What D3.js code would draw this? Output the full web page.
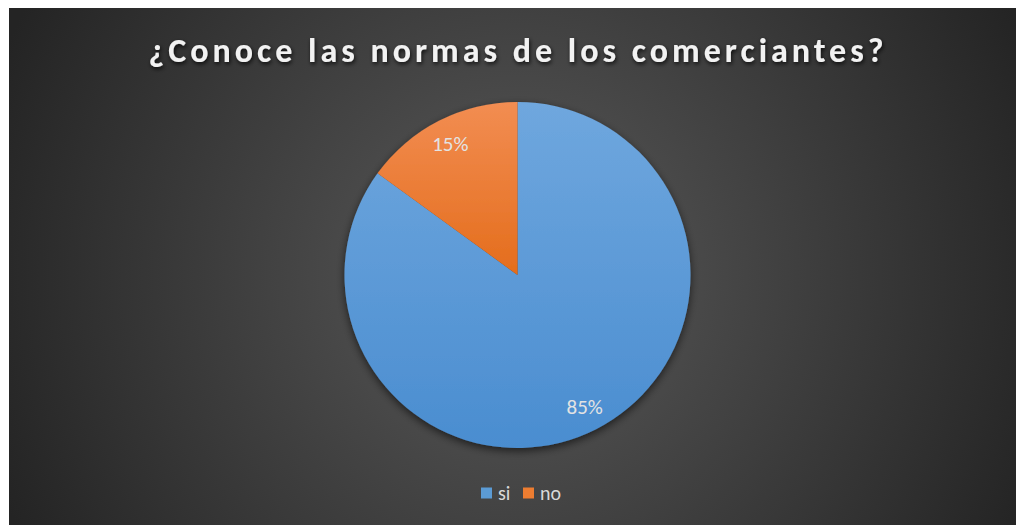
<!DOCTYPE html>
<html>
<head>
<meta charset="utf-8">
<script src="https://cdn.jsdelivr.net/npm/d3@7"></script>
<style>
  body { margin: 0; background: #fff; }
  text { font-family: Carlito, "Open Sans", "Noto Sans", sans-serif; }
</style>
</head>
<body>
<svg width="1016" height="525"></svg>
<script>
const categories = ["si", "no"];
const values = [85, 15];
const colors = ["#5b9bd5", "#ed7d31"];
const title = "¿Conoce las normas de los comerciantes?";

const svg = d3.select("svg");
const cx = 517.5, cy = 275, radius = 173;

const defs = svg.append("defs");

const bg = defs.append("radialGradient").attr("id", "bg")
  .attr("gradientUnits", "userSpaceOnUse")
  .attr("cx", cx).attr("cy", cy).attr("r", 560);
bg.append("stop").attr("offset", "0%").attr("stop-color", "#5a5a5a");
bg.append("stop").attr("offset", "100%").attr("stop-color", "#242424");

// slice gradients, in the pie group's frame (origin at the centre)
const grads = [["#6fa7de", "#4a8dd0", radius], ["#f28d52", "#e46d1c", 0]];
grads.forEach((gr, i) => {
  const lg = defs.append("linearGradient").attr("id", "g" + i)
    .attr("gradientUnits", "userSpaceOnUse")
    .attr("x1", 0).attr("y1", -radius).attr("x2", 0).attr("y2", gr[2]);
  lg.append("stop").attr("offset", "0%").attr("stop-color", gr[0]);
  lg.append("stop").attr("offset", "100%").attr("stop-color", gr[1]);
});

const shadow = defs.append("filter").attr("id", "shadow")
  .attr("x", "-20%").attr("y", "-20%").attr("width", "140%").attr("height", "140%");
shadow.append("feGaussianBlur").attr("in", "SourceAlpha").attr("stdDeviation", 4);
shadow.append("feOffset").attr("dx", 0).attr("dy", 3).attr("result", "b");
shadow.append("feComponentTransfer").append("feFuncA").attr("type", "linear").attr("slope", 0.6);
const m = shadow.append("feMerge");
m.append("feMergeNode");
m.append("feMergeNode").attr("in", "SourceGraphic");

const tshadow = defs.append("filter").attr("id", "tshadow")
  .attr("x", "-5%").attr("y", "-30%").attr("width", "110%").attr("height", "160%");
tshadow.append("feGaussianBlur").attr("in", "SourceAlpha").attr("stdDeviation", 2);
tshadow.append("feOffset").attr("dx", 1).attr("dy", 2);
tshadow.append("feComponentTransfer").append("feFuncA").attr("type", "linear").attr("slope", 0.8);
const tm = tshadow.append("feMerge");
tm.append("feMergeNode");
tm.append("feMergeNode").attr("in", "SourceGraphic");

svg.append("rect").attr("x", 9).attr("y", 8).attr("width", 1007).attr("height", 517)
  .attr("fill", "url(#bg)");

svg.append("text")
  .attr("x", 518).attr("y", 62)
  .attr("text-anchor", "middle")
  .attr("fill", "#f2f2f2")
  .attr("font-size", 34)
  .attr("font-weight", "bold")
  .attr("letter-spacing", 4)
  .attr("filter", "url(#tshadow)")
  .text(title);

const pie = d3.pie().sort(null).value(d => d);
const arcs = pie(values);
const arc = d3.arc().innerRadius(0).outerRadius(radius);
const labelArc = d3.arc().innerRadius(radius * 0.855).outerRadius(radius * 0.855);

const g = svg.append("g").attr("transform", `translate(${cx},${cy})`);
g.append("g").attr("filter", "url(#shadow)")
  .selectAll("path").data(arcs).enter().append("path")
  .attr("d", arc)
  .attr("fill", (d, i) => `url(#g${i})`);

g.selectAll("text.lbl").data(arcs).enter().append("text")
  .attr("class", "lbl")
  .attr("transform", d => `translate(${labelArc.centroid(d)})`)
  .attr("text-anchor", "middle")
  .attr("dy", "0.35em")
  .attr("fill", "#e3e3e3")
  .attr("font-size", 21)
  .text(d => d.data + "%");

const legend = svg.append("g").attr("transform", "translate(481,493)");
const items = legend.selectAll("g").data(categories).enter().append("g")
  .attr("transform", (d, i) => `translate(${i * 42},0)`);
items.append("rect").attr("x", 0).attr("y", -5.5).attr("width", 11).attr("height", 11)
  .attr("fill", (d, i) => colors[i]);
items.append("text").attr("x", 17).attr("y", 0).attr("dy", "0.35em")
  .attr("fill", "#d9d9d9").attr("font-size", 20)
  .text(d => d);
</script>
</body>
</html>
